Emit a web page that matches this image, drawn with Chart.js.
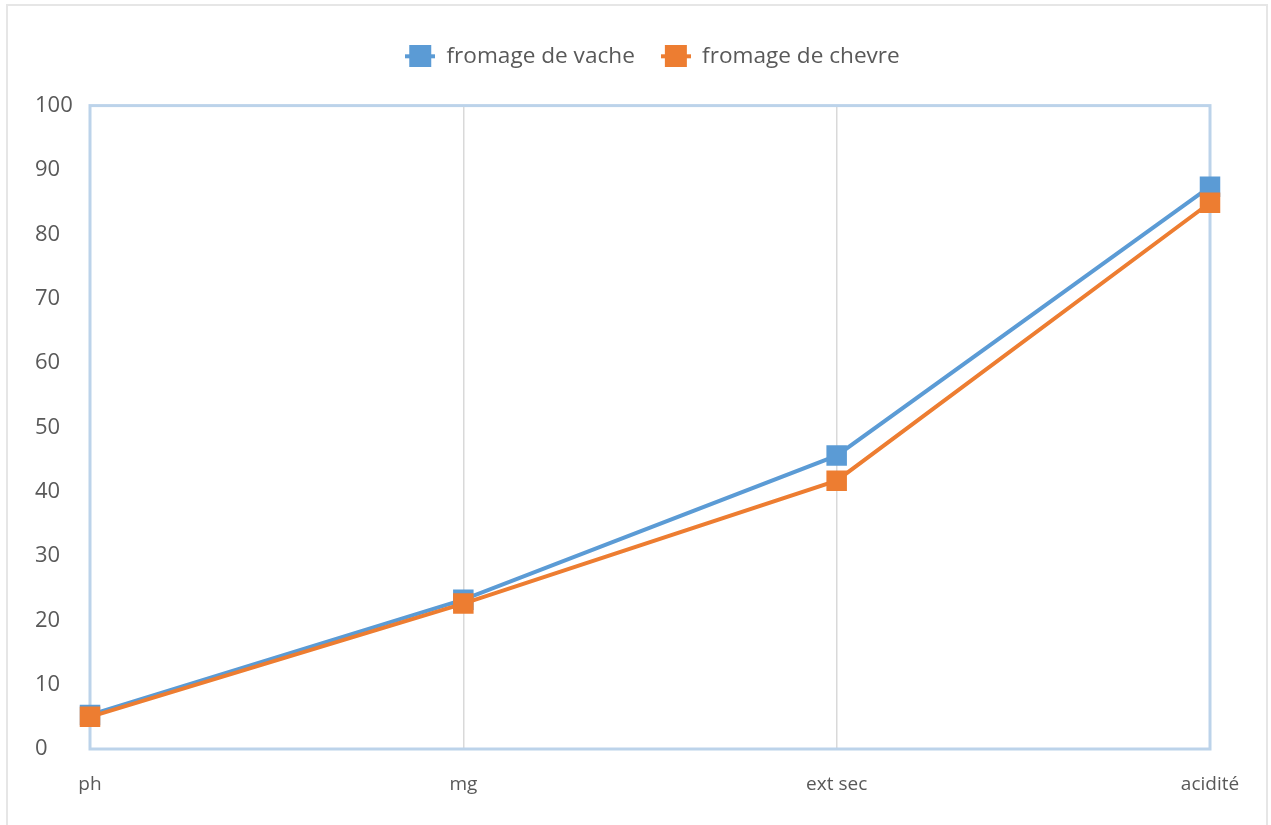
<!DOCTYPE html>
<html>
<head>
<meta charset="utf-8">
<script src="https://cdn.jsdelivr.net/npm/chart.js@4/dist/chart.umd.min.js"></script>
<style>
  html, body { margin: 0; padding: 0; background: #ffffff; overflow: hidden; }
  #frame {
    position: absolute; left: 6px; top: 4px; width: 1262px; height: 840px;
    border: 2px solid #e6e6e6; box-sizing: border-box;
  }
  #wrap { position: absolute; left: 0; top: 0; width: 1271px; height: 825px; }
</style>
</head>
<body>
<div id="frame"></div>
<div id="wrap"><canvas id="c" width="1271" height="825"></canvas></div>
<script>
// Cheese analysis: pH, fat (mg), dry extract (ext sec) and acidity
const categories = ['ph', 'mg', 'ext sec', 'acidité'];
const vacheValues = [5.3, 23.2, 45.6, 87.4];
const chevreValues = [5.0, 22.6, 41.7, 84.9];
const yTicks = [0, 10, 20, 30, 40, 50, 60, 70, 80, 90, 100];

const BLUE = '#5b9bd5';
const ORANGE = '#ed7d31';
const TEXT = '#595959';
const FONT = "'Open Sans', 'Noto Sans', sans-serif";

// Legend symbol: short line segment with a square marker on it
function legendSymbol(color) {
  const c = document.createElement('canvas');
  c.width = 30; c.height = 22;
  const g = c.getContext('2d');
  g.fillStyle = color;
  g.fillRect(0, 9, 30, 4);
  g.fillRect(4, 0, 22, 22);
  return c;
}

// Plot box border drawn in light blue around the chart area
const plotBorder = {
  id: 'plotBorder',
  beforeDatasetsDraw(chart) {
    const { ctx, chartArea: a } = chart;
    ctx.save();
    ctx.strokeStyle = '#bcd3ea';
    ctx.lineWidth = 3;
    ctx.strokeRect(a.left, a.top, a.right - a.left, a.bottom - a.top);
    ctx.restore();
  }
};

// Extra space under the legend, and legend centred over the plot box
const legendSpacing = {
  id: 'legendSpacing',
  beforeInit(chart) {
    const fit = chart.legend.fit;
    chart.legend.fit = function () {
      fit.call(this);
      this.height += 28;
    };
  },
  afterLayout(chart) {
    chart.legend.left += 30;
    chart.legend.right += 30;
  }
};

new Chart(document.getElementById('c'), {
  type: 'line',
  data: {
    labels: categories,
    datasets: [
      {
        label: 'fromage de vache',
        data: vacheValues,
        borderColor: BLUE,
        backgroundColor: BLUE,
        borderWidth: 4,
        pointStyle: 'rect',
        pointRadius: 14.5,
        pointBorderWidth: 0,
        pointHoverRadius: 14.5,
        order: 2
      },
      {
        label: 'fromage de chevre',
        data: chevreValues,
        borderColor: ORANGE,
        backgroundColor: ORANGE,
        borderWidth: 4,
        pointStyle: 'rect',
        pointRadius: 14.5,
        pointBorderWidth: 0,
        pointHoverRadius: 14.5,
        order: 1
      }
    ]
  },
  options: {
    responsive: false,
    animation: false,
    devicePixelRatio: 1,
    layout: { padding: { left: 35, right: 61, top: 19, bottom: 0 } },
    plugins: {
      tooltip: { enabled: false },
      legend: {
        position: 'top',
        labels: {
          usePointStyle: true,
          pointStyleWidth: 30,
          boxHeight: 22,
          padding: 26,
          color: TEXT,
          font: { family: FONT, size: 22.6 },
          generateLabels(chart) {
            return chart.data.datasets.map((ds, i) => ({
              text: ds.label,
              fillStyle: ds.borderColor,
              strokeStyle: ds.borderColor,
              lineWidth: 0,
              pointStyle: legendSymbol(ds.borderColor),
              fontColor: TEXT,
              hidden: false,
              datasetIndex: i
            }));
          }
        }
      }
    },
    scales: {
      x: {
        offset: false,
        grid: { color: '#d9d9d9', lineWidth: 1.5, drawTicks: false },
        border: { display: false },
        ticks: { color: TEXT, font: { family: FONT, size: 19 }, padding: 24, maxRotation: 0 },
        afterFit(scale) { scale.height = 76; }
      },
      y: {
        min: 0,
        max: 100,
        afterBuildTicks(scale) { scale.ticks = yTicks.map(v => ({ value: v })); },
        grid: { display: false, drawTicks: false },
        border: { display: false },
        ticks: { color: TEXT, font: { family: FONT, size: 22 }, crossAlign: 'far', padding: 10 },
        afterFit(scale) { scale.width = 55; }
      }
    }
  },
  plugins: [plotBorder, legendSpacing]
});
</script>
</body>
</html>
